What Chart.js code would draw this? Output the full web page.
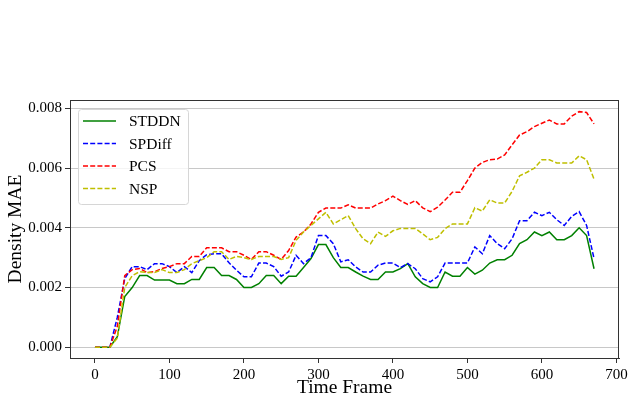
<!DOCTYPE html>
<html>
<head>
<meta charset="utf-8">
<script src="https://cdn.jsdelivr.net/npm/chart.js@4.4.0/dist/chart.umd.min.js"></script>
<style>
  html, body { margin: 0; padding: 0; background: #fff; }
  #wrap { width: 634px; height: 404px; }
</style>
</head>
<body>
<div id="wrap"><canvas id="myChart" width="634" height="404"></canvas></div>
<script>
// time frames, every 10 steps
const frames = [0,10,20,30,40,50,60,70,80,90,100,110,120,130,140,150,160,170,180,190,
  200,210,220,230,240,250,260,270,280,290,300,310,320,330,340,350,360,370,380,390,
  400,410,420,430,440,450,460,470,480,490,500,510,520,530,540,550,560,570,580,590,
  600,610,620,630,640,650,660,670];

const stddn = [0,0,0,0.00035,0.0017,0.002,0.0024,0.0024,0.00225,0.00225,
  0.00225,0.00213,0.00213,0.00227,0.00227,0.00267,0.00267,0.0024,0.0024,0.00227,
  0.002,0.002,0.00213,0.0024,0.0024,0.00213,0.00238,0.00238,0.00267,0.00297,
  0.00344,0.00344,0.003,0.00267,0.00267,0.00252,0.00238,0.00227,0.00227,0.00252,
  0.00252,0.00263,0.0028,0.00236,0.00213,0.002,0.002,0.00252,0.00238,0.00238,
  0.00267,0.00245,0.00258,0.00282,0.00293,0.00293,0.00308,0.00347,0.0036,0.00386,
  0.00374,0.00386,0.0036,0.0036,0.00374,0.004,0.00374,0.00263];

const spdiff = [0,0,0,0.001,0.0023,0.0027,0.0027,0.0026,0.0028,0.0028,
  0.0027,0.0025,0.0027,0.0025,0.0029,0.0031,0.00313,0.00313,0.00283,0.00258,
  0.00236,0.00236,0.00282,0.00282,0.0027,0.00238,0.00252,0.00308,0.0028,0.003,
  0.00374,0.00374,0.00347,0.00286,0.00293,0.00269,0.00252,0.00252,0.00275,0.00282,
  0.00282,0.00267,0.0028,0.00263,0.0023,0.00219,0.00236,0.00282,0.00282,0.00282,
  0.00282,0.00336,0.00313,0.00374,0.00347,0.0033,0.00363,0.00424,0.00424,0.00452,
  0.00441,0.00452,0.00427,0.00408,0.00438,0.00454,0.00408,0.00297];

const pcs = [0,0,0,0.0007,0.0024,0.0026,0.00264,0.0025,0.00253,0.00264,
  0.0027,0.0028,0.0028,0.00304,0.00304,0.00333,0.00333,0.00333,0.0032,0.0032,
  0.00308,0.00294,0.0032,0.0032,0.00308,0.00294,0.00324,0.00369,0.00386,0.00413,
  0.00452,0.00466,0.00466,0.00466,0.00477,0.00466,0.00466,0.00466,0.0048,0.00491,
  0.00506,0.00491,0.00478,0.00491,0.00467,0.00454,0.00469,0.00493,0.00519,0.00519,
  0.00558,0.006,0.00619,0.00628,0.0063,0.00644,0.00678,0.00711,0.00722,0.00739,
  0.0075,0.00761,0.00748,0.00748,0.00774,0.00789,0.00786,0.00748];

const nsp = [0,0,0,0.0003,0.002,0.0024,0.00253,0.0025,0.0025,0.0026,
  0.0025,0.0025,0.0026,0.0028,0.0029,0.003,0.0032,0.0032,0.00294,0.00304,
  0.003,0.00294,0.00304,0.00304,0.00304,0.00294,0.003,0.00358,0.00386,0.00408,
  0.0043,0.00452,0.00413,0.00427,0.00441,0.00397,0.00363,0.00347,0.00386,0.00371,
  0.0039,0.00398,0.00398,0.00398,0.0038,0.0036,0.00368,0.00397,0.00413,0.00413,
  0.00413,0.00467,0.00456,0.00494,0.00483,0.00483,0.00522,0.00574,0.00586,0.006,
  0.00628,0.00628,0.00617,0.00617,0.00617,0.00641,0.00628,0.00563];

const xTicks = [0,100,200,300,400,500,600,700];
const yTicks = [0,0.002,0.004,0.006,0.008];

const seriesNames = ['STDDN','SPDiff','PCS','NSP'];
const seriesColors = ['#008000','#0000ff','#ff0000','#bfbf00'];
const seriesDash = [[],[5,2.2],[5,2.2],[5,2.2]];
const seriesValues = [stddn, spdiff, pcs, nsp];

Chart.defaults.font.family = "'Liberation Serif', 'DejaVu Serif', serif";
Chart.defaults.color = '#000';

function toPoints(vals) {
    return vals.map(function (v, i) { return {x: frames[i], y: v}; });
}

const datasets = seriesNames.map(function (name, i) {
    return {
        label: name,
        data: toPoints(seriesValues[i]),
        borderColor: seriesColors[i],
        borderWidth: 1.5,
        borderDash: seriesDash[i],
        pointRadius: 0,
        tension: 0,
        fill: false,
        order: 3 - i
    };
});

// matplotlib-like legend in the upper left of the plot, plus top/right spines
const boxPlugin = {
    id: 'boxPlugin',
    afterDraw(chart) {
        const ctx = chart.ctx;
        const a = chart.chartArea;
        ctx.save();
        ctx.strokeStyle = '#333';
        ctx.lineWidth = 1;
        ctx.strokeRect(Math.round(a.left) + 0.5, Math.round(a.top) + 0.5,
            Math.round(a.right - a.left) - 1, Math.round(a.bottom - a.top));

        // legend
        const lx = a.left + 8, ly = a.top + 9, lw = 110, lh = 95;
        ctx.beginPath();
        if (ctx.roundRect) ctx.roundRect(lx + 0.5, ly + 0.5, lw, lh, 3);
        else ctx.rect(lx + 0.5, ly + 0.5, lw, lh);
        ctx.fillStyle = 'rgba(255,255,255,0.8)';
        ctx.fill();
        ctx.strokeStyle = '#d6d6d6';
        ctx.stroke();

        ctx.font = "15.5px 'Liberation Serif'";
        ctx.textBaseline = 'middle';
        ctx.textAlign = 'left';
        seriesNames.forEach(function (name, i) {
            const y = ly + 12 + i * 22.5;
            ctx.beginPath();
            ctx.setLineDash(seriesDash[i]);
            ctx.strokeStyle = seriesColors[i];
            ctx.lineWidth = 1.5;
            ctx.moveTo(lx + 5, y);
            ctx.lineTo(lx + 38, y);
            ctx.stroke();
            ctx.setLineDash([]);
            ctx.fillStyle = '#000';
            ctx.fillText(name, lx + 51, y + 1);
        });
        ctx.restore();
    }
};

const config = {
    type: 'line',
    data: { datasets: datasets },
    options: {
        responsive: false,
        animation: false,
        layout: { padding: { top: 100, right: 15, left: 0, bottom: 0 } },
        plugins: {
            legend: { display: false },
            tooltip: { enabled: false }
        },
        scales: {
            x: {
                type: 'linear',
                min: -33.5,
                max: 703.5,
                afterBuildTicks: function (s) { s.ticks = xTicks.map(function (v) { return {value: v}; }); },
                afterFit: function (s) { s.height = 46; },
                grid: { drawOnChartArea: false, drawTicks: true, tickLength: 5, tickColor: '#333' },
                border: { display: true, color: '#333' },
                ticks: { font: { size: 15 }, padding: 3, maxRotation: 0, color: '#000' },
                title: { display: true, text: 'Time Frame', font: { size: 19.5 }, color: '#000', padding: { top: 0, bottom: 4 } }
            },
            y: {
                min: -0.00036,
                max: 0.00828,
                afterBuildTicks: function (s) { s.ticks = yTicks.map(function (v) { return {value: v}; }); },
                afterFit: function (s) { s.width = 70; },
                grid: { color: '#c8c8c8', drawTicks: true, tickLength: 5, tickColor: '#333' },
                border: { display: true, color: '#333' },
                ticks: {
                    font: { size: 15 }, padding: 3, color: '#000',
                    callback: function (v) { return v.toFixed(3); }
                },
                title: { display: true, text: 'Density MAE', font: { size: 19.5 }, color: '#000', padding: { top: 4, bottom: 0 } }
            }
        }
    },
    plugins: [boxPlugin]
};

const myChart = new Chart(document.getElementById('myChart'), config);
</script>
</body>
</html>
